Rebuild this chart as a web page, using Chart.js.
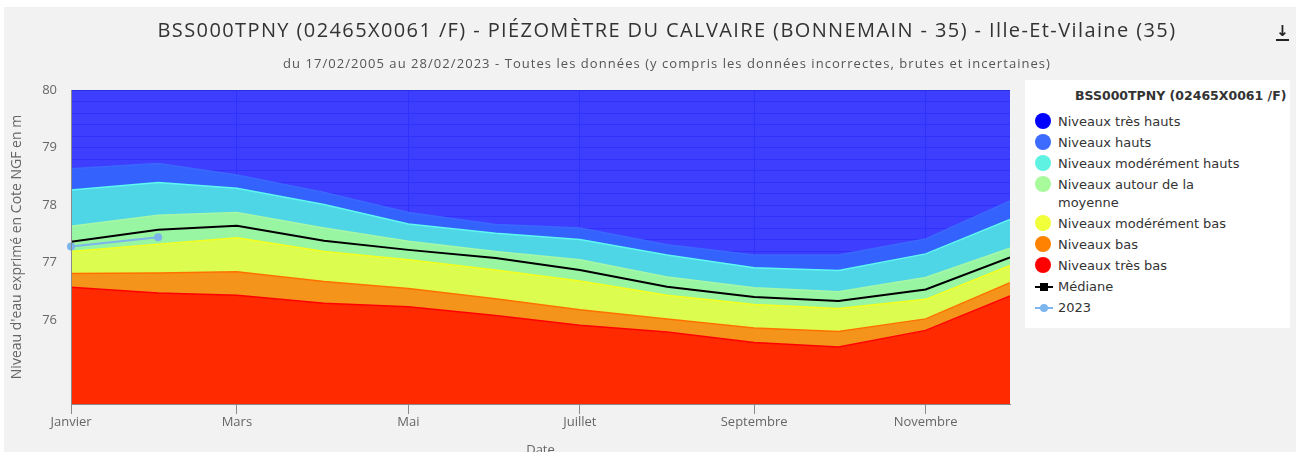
<!DOCTYPE html>
<html lang="fr">
<head>
<meta charset="utf-8">
<title>BSS000TPNY - Piézomètre du Calvaire</title>
<script src="https://cdn.jsdelivr.net/npm/chart.js@4.4.1/dist/chart.umd.min.js"></script>
<style>
  html, body { margin: 0; padding: 0; background: #fff; overflow: hidden; }
  .wrap { position: relative; width: 1296px; height: 452px; overflow: hidden; }
  .panel { position: absolute; left: 4px; top: 7px; right: 0; bottom: 0; background: #f2f2f2; }
  #piezoChart { position: absolute; left: 0; top: 0; }
  .title, .subtitle {
    position: absolute; left: 0; width: 1334px; text-align: center; white-space: nowrap;
    font-family: "Liberation Sans Narrow", "Open Sans", sans-serif;
  }
  .title span, .subtitle span { display: inline-block; }
  .title { top: 17px; font-size: 20px; line-height: 26px; color: #333; }
  .subtitle { top: 54px; font-size: 13px; line-height: 18px; color: #555; }
  .download {
    position: absolute; left: 1276px; top: 24px; width: 13px; text-align: center;
    font: bold 15px "DejaVu Sans", sans-serif; line-height: 15px; color: #222;
    border-bottom: 2px solid #222;
  }
  .legend {
    position: absolute; left: 1025px; top: 80px; width: 265px; height: 248px;
    background: #fff; box-sizing: border-box; padding: 7px 0 0 10px;
    font: 13px "DejaVu Sans", Verdana, sans-serif; color: #333;
  }
  .legend .ltitle { font-weight: bold; font-size: 12.5px; line-height: 18px; margin: 0 0 6px 40px; }
  .legend .item { position: relative; padding: 1.5px 0 1.5px 23px; line-height: 18px; }
  .legend .dot { position: absolute; left: 0; top: 2px; width: 16px; height: 16px; border-radius: 50%; }
  .legend .ln { position: absolute; left: 0; top: 10px; width: 18px; height: 2px; }
  .legend .mk { position: absolute; left: 5px; top: 7px; width: 8px; height: 8px; }
</style>
</head>
<body>
<div class="wrap">
  <div class="panel"></div>
  <canvas id="piezoChart" width="1296" height="452"></canvas>
  <div class="title"><span id="title">BSS000TPNY (02465X0061 /F) - PIÉZOMÈTRE DU CALVAIRE (BONNEMAIN - 35) - Ille-Et-Vilaine (35)</span></div>
  <div class="subtitle"><span id="subtitle">du 17/02/2005 au 28/02/2023 - Toutes les données (y compris les données incorrectes, brutes et incertaines)</span></div>
  <div class="download">↓</div>
  <div class="legend" id="legend"></div>
</div>

<script>
// day of year of the 1st of each month
const monthDays = [0, 31, 59, 90, 120, 151, 181, 212, 243, 273, 304, 334];
const tickDays = [0, 59, 120, 181, 243, 304];
const tickLabels = ['Janvier', 'Mars', 'Mai', 'Juillet', 'Septembre', 'Novembre'];

// upper limit of each band (m NGF)
const tresHauts = [80, 80, 80, 80, 80, 80, 80, 80, 80, 80, 80, 80];
const hauts = [78.63, 78.72, 78.52, 78.22, 77.87, 77.66, 77.60, 77.31, 77.13, 77.13, 77.41, 78.07];
const moderementHauts = [78.26, 78.39, 78.29, 78.01, 77.67, 77.51, 77.40, 77.13, 76.91, 76.86, 77.15, 77.75];
const autourMoyenne = [77.63, 77.82, 77.87, 77.60, 77.37, 77.19, 77.05, 76.75, 76.56, 76.49, 76.74, 77.25];
const moderementBas = [77.19, 77.32, 77.43, 77.19, 77.05, 76.87, 76.68, 76.43, 76.27, 76.20, 76.36, 76.95];
const bas = [76.81, 76.82, 76.84, 76.67, 76.55, 76.37, 76.18, 76.02, 75.86, 75.80, 76.02, 76.65];
const tresBas = [76.57, 76.47, 76.43, 76.29, 76.23, 76.08, 75.91, 75.79, 75.61, 75.53, 75.82, 76.42];
const mediane = [77.36, 77.57, 77.64, 77.38, 77.22, 77.08, 76.87, 76.58, 76.40, 76.33, 76.53, 77.09];

// 2023 measurements
const days2023 = [0, 31];
const values2023 = [77.28, 77.44];

const bandLabels = ['Niveaux très hauts', 'Niveaux hauts', 'Niveaux modérément hauts',
  ['Niveaux autour de la', 'moyenne'], 'Niveaux modérément bas', 'Niveaux bas', 'Niveaux très bas'];

// spread a text line to a given width with letter spacing
function fitWidth(el, target) {
  const w = el.getBoundingClientRect().width;
  const n = el.textContent.length;
  el.style.letterSpacing = ((target - w) / n).toFixed(3) + 'px';
}

document.addEventListener('DOMContentLoaded', function () {
  fitWidth(document.getElementById('title'), 1019);
  fitWidth(document.getElementById('subtitle'), 768);

  const toPoints = (xs, ys) => xs.map((x, i) => ({ x: x, y: ys[i] }));
  const axisFont = { family: "'Open Sans', sans-serif", size: 13 };

  const bands = [
    { data: tresHauts, fill: 'rgba(50, 50, 255, 0.94)', line: '#2a2ad6', dot: '#0000ff' },
    { data: hauts, fill: '#3462fd', line: '#3a68ff', dot: '#3d6bff' },
    { data: moderementHauts, fill: '#4fd6e6', line: '#5ef8f0', dot: '#5ef2e2' },
    { data: autourMoyenne, fill: '#98f5a2', line: '#a6f8a6', dot: '#a8fa9c' },
    { data: moderementBas, fill: '#dcfc50', line: '#f5ff1e', dot: '#f0ff3a' },
    { data: bas, fill: '#f5941b', line: '#ff7000', dot: '#ff8200' },
    { data: tresBas, fill: '#ff2a00', line: '#ff0000', dot: '#ff0000' }
  ];

  const datasets = bands.map((b, i) => ({
    label: bandLabels[i],
    data: toPoints(monthDays, b.data),
    backgroundColor: b.fill,
    borderColor: b.line,
    borderWidth: 1.5,
    fill: i === bands.length - 1 ? 'start' : '+1',
    pointRadius: 0,
    tension: 0
  }));

  datasets.push({
    label: 'Médiane',
    data: toPoints(monthDays, mediane),
    borderColor: '#000',
    borderWidth: 2,
    fill: false,
    pointRadius: 0,
    tension: 0
  });

  datasets.push({
    label: '2023',
    data: toPoints(days2023, values2023),
    borderColor: '#7cb5ec',
    backgroundColor: '#7cb5ec',
    borderWidth: 2,
    fill: false,
    pointRadius: 4,
    pointBorderWidth: 0,
    clip: false,
    tension: 0
  });

  Chart.defaults.font.family = "'Open Sans', sans-serif";

  const ctx = document.getElementById('piezoChart').getContext('2d');
  new Chart(ctx, {
    type: 'line',
    data: { datasets: datasets },
    options: {
      responsive: false,
      animation: false,
      layout: { padding: { top: 90, right: 286, bottom: 0, left: 0 } },
      plugins: {
        legend: { display: false },
        tooltip: { enabled: false },
        filler: { drawTime: 'beforeDatasetsDraw' }
      },
      scales: {
        x: {
          type: 'linear',
          min: 0,
          max: 334,
          afterBuildTicks: function (axis) {
            axis.ticks = tickDays.map(d => ({ value: d }));
          },
          afterFit: function (axis) { axis.height = 48; },
          ticks: {
            autoSkip: false,
            maxRotation: 0,
            padding: 0,
            color: '#666',
            font: axisFont,
            callback: function (value, index) { return tickLabels[index]; }
          },
          grid: { color: '#2424c8', tickColor: '#8a8a8a', tickLength: 10 },
          border: { color: '#8a8a8a', z: 1 },
          title: {
            display: true, text: 'Date', color: '#666', font: axisFont,
            padding: { top: 0, bottom: -6 }
          }
        },
        y: {
          min: 74.54,
          max: 80,
          afterFit: function (axis) { axis.width = 71; },
          ticks: {
            stepSize: 0.2,
            autoSkip: false,
            padding: 14,
            color: '#666',
            font: axisFont,
            callback: function (value) {
              const r = Math.round(value);
              return (Math.abs(value - r) < 0.001 && r >= 76) ? r : '';
            }
          },
          grid: { color: '#2424c8', drawTicks: false },
          border: { color: '#8a8a8a', z: 1 },
          title: {
            display: true, text: "Niveau d'eau exprimé en Cote NGF en m", color: '#666',
            font: { family: "'Open Sans', sans-serif", size: 14 }, padding: { top: 9, bottom: 0 }
          }
        }
      }
    }
  });

  // Legend box on the right
  const legend = document.getElementById('legend');
  let html = '<div class="ltitle">BSS000TPNY (02465X0061 /F)</div>';
  bands.forEach((b, i) => {
    const text = Array.isArray(bandLabels[i]) ? bandLabels[i].join('<br>') : bandLabels[i];
    html += '<div class="item"><span class="dot" style="background:' + b.dot + '"></span>' + text + '</div>';
  });
  html += '<div class="item"><span class="ln" style="background:#000"></span>' +
    '<span class="mk" style="background:#000"></span>Médiane</div>';
  html += '<div class="item"><span class="ln" style="background:#7cb5ec"></span>' +
    '<span class="mk" style="background:#7cb5ec;border-radius:50%"></span>2023</div>';
  legend.innerHTML = html;
});
</script>
</body>
</html>
